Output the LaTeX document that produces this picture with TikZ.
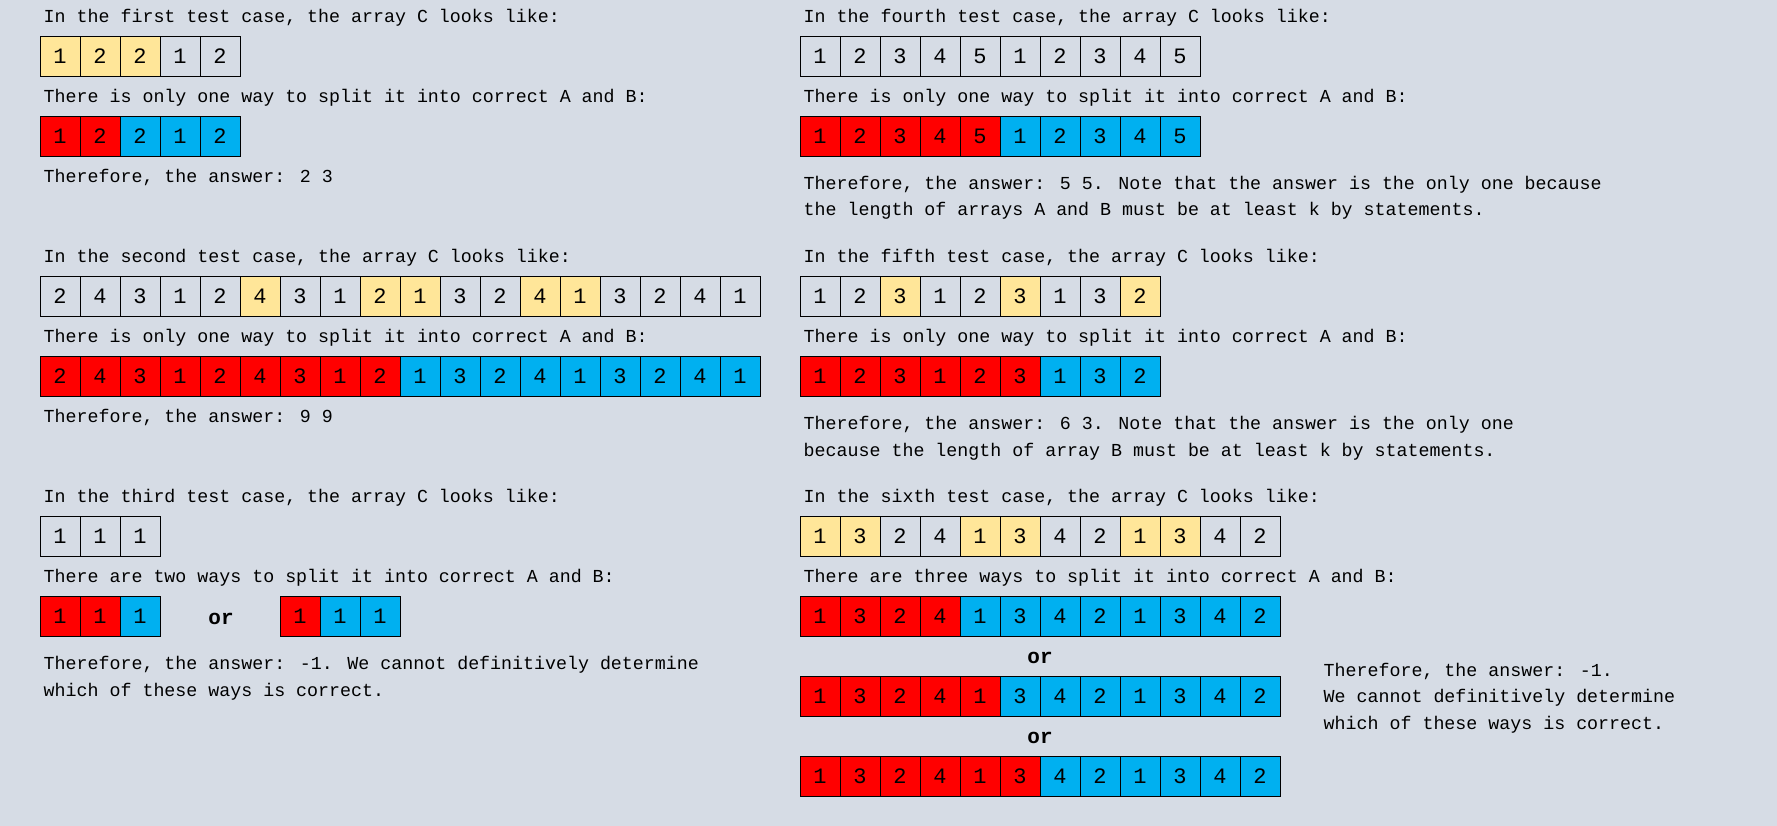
\documentclass[tikz,border=0pt]{standalone}
\usepackage{fontspec}
\usepackage{xcolor}
\newfontfamily\monofont{Liberation Mono}

\definecolor{bg}{HTML}{D6DCE5}
\definecolor{hl}{HTML}{FFE699}
\definecolor{partA}{HTML}{FF0000}
\definecolor{partB}{HTML}{00B0F0}

% one row of cells: name, left x, centre y, list of value/colour
\newcommand{\drawarray}[4]{%
  \foreach \v/\c [count=\i] in {#4}
    \node[cell,fill=\c] (#1-\i) at ({#2+40*\i-20},#3) {\v};%
}

\begin{document}
\begin{tikzpicture}[x=1pt,y=-1pt,
  cell/.style={draw,line width=1pt,minimum width=40pt,minimum height=40pt,inner sep=0pt,
    font=\monofont\fontsize{22}{22}\selectfont},
  txt/.style={anchor=base west,inner sep=0pt,font=\monofont\fontsize{18.3}{18}\selectfont},
  orlbl/.style={inner sep=0pt,font=\monofont\bfseries\fontsize{21}{21}\selectfont}]
\fill[bg] (0,0) rectangle (1777,826);
\useasboundingbox (0,0) rectangle (1777,826);

% First test case
\node[txt] (t1a) at (43.5,22.7) {In the first test case, the array C looks like:};
\drawarray{c1}{40}{56.3}{1/hl,2/hl,2/hl,1/bg,2/bg}
\node[txt] (t1b) at (43.5,102.7) {There is only one way to split it into correct A and B:};
\drawarray{s1}{40}{136.3}{1/partA,2/partA,2/partB,1/partB,2/partB}
\node[txt] (t1c) at (43.5,182.7) {Therefore, the answer: 2 3};

% Second test case
\node[txt] (t2a) at (43.5,262.7) {In the second test case, the array C looks like:};
\drawarray{c2}{40}{296.3}{2/bg,4/bg,3/bg,1/bg,2/bg,4/hl,3/bg,1/bg,2/hl,1/hl,3/bg,2/bg,4/hl,1/hl,3/bg,2/bg,4/bg,1/bg}
\node[txt] (t2b) at (43.5,342.7) {There is only one way to split it into correct A and B:};
\drawarray{s2}{40}{376.3}{2/partA,4/partA,3/partA,1/partA,2/partA,4/partA,3/partA,1/partA,2/partA,1/partB,3/partB,2/partB,4/partB,1/partB,3/partB,2/partB,4/partB,1/partB}
\node[txt] (t2c) at (43.5,422.7) {Therefore, the answer: 9 9};

% Third test case
\node[txt] (t3a) at (43.5,502.7) {In the third test case, the array C looks like:};
\drawarray{c3}{40}{536.3}{1/bg,1/bg,1/bg}
\node[txt] (t3b) at (43.5,582.7) {There are two ways to split it into correct A and B:};
\drawarray{s3}{40}{616.3}{1/partA,1/partA,1/partB}
\node[orlbl] (or3) at (221,619) {or};
\drawarray{r3}{280}{616.3}{1/partA,1/partB,1/partB}
\node[txt] (t3c) at (43.5,669.3) {Therefore, the answer: -1. We cannot definitively determine};
\node[txt] (t3d) at ([yshift=-26.7pt]t3c.base west) {which of these ways is correct.};

% Fourth test case
\node[txt] (t4a) at (803.5,22.7) {In the fourth test case, the array C looks like:};
\drawarray{c4}{800}{56.3}{1/bg,2/bg,3/bg,4/bg,5/bg,1/bg,2/bg,3/bg,4/bg,5/bg}
\node[txt] (t4b) at (803.5,102.7) {There is only one way to split it into correct A and B:};
\drawarray{s4}{800}{136.3}{1/partA,2/partA,3/partA,4/partA,5/partA,1/partB,2/partB,3/partB,4/partB,5/partB}
\node[txt] (t4c) at (803.5,189.3) {Therefore, the answer: 5 5. Note that the answer is the only one because};
\node[txt] (t4d) at ([yshift=-26.7pt]t4c.base west) {the length of arrays A and B must be at least k by statements.};

% Fifth test case
\node[txt] (t5a) at (803.5,262.7) {In the fifth test case, the array C looks like:};
\drawarray{c5}{800}{296.3}{1/bg,2/bg,3/hl,1/bg,2/bg,3/hl,1/bg,3/bg,2/hl}
\node[txt] (t5b) at (803.5,342.7) {There is only one way to split it into correct A and B:};
\drawarray{s5}{800}{376.3}{1/partA,2/partA,3/partA,1/partA,2/partA,3/partA,1/partB,3/partB,2/partB}
\node[txt] (t5c) at (803.5,429.3) {Therefore, the answer: 6 3. Note that the answer is the only one};
\node[txt] (t5d) at ([yshift=-26.7pt]t5c.base west) {because the length of array B must be at least k by statements.};

% Sixth test case
\node[txt] (t6a) at (803.5,502.7) {In the sixth test case, the array C looks like:};
\drawarray{c6}{800}{536.3}{1/hl,3/hl,2/bg,4/bg,1/hl,3/hl,4/bg,2/bg,1/hl,3/hl,4/bg,2/bg}
\node[txt] (t6b) at (803.5,582.7) {There are three ways to split it into correct A and B:};
\drawarray{s6}{800}{616.3}{1/partA,3/partA,2/partA,4/partA,1/partB,3/partB,4/partB,2/partB,1/partB,3/partB,4/partB,2/partB}
\node[orlbl] (or6a) at (1040,658.3) {or};
\drawarray{r6}{800}{696.3}{1/partA,3/partA,2/partA,4/partA,1/partA,3/partB,4/partB,2/partB,1/partB,3/partB,4/partB,2/partB}
\node[orlbl] (or6b) at (1040,738.3) {or};
\drawarray{q6}{800}{776.3}{1/partA,3/partA,2/partA,4/partA,1/partA,3/partA,4/partB,2/partB,1/partB,3/partB,4/partB,2/partB}
\node[txt] (t6c) at (1323.5,676) {Therefore, the answer: -1.};
\node[txt] (t6d) at ([yshift=-26.7pt]t6c.base west) {We cannot definitively determine};
\node[txt] (t6e) at ([yshift=-26.7pt]t6d.base west) {which of these ways is correct.};
\end{tikzpicture}
\end{document}
